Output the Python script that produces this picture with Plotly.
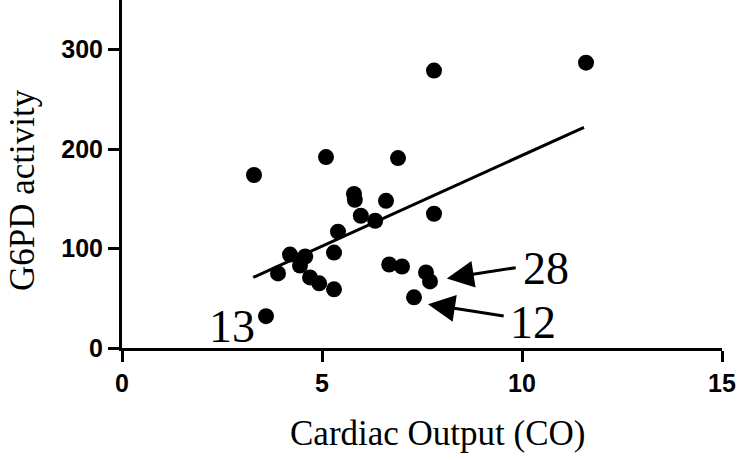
import plotly.graph_objects as go

# Data
co = [3.3, 3.6, 3.9, 4.2, 4.58, 4.45, 4.7, 4.93, 5.1, 5.3, 5.3, 5.4, 5.8, 5.82,
      5.97, 6.33, 6.6, 6.9, 6.68, 7.0, 7.3, 7.6, 7.7, 7.8, 7.8, 11.6]
g6pd = [174, 32, 75, 94, 92, 83, 71, 65, 192, 59, 96, 117, 155, 149,
        133, 128, 148, 191, 84, 82, 51, 76, 67, 279, 135, 287]

fit_x = [3.28, 11.55]
fit_y = [71, 222]

x_ticks = [0, 5, 10, 15]
y_ticks = [0, 100, 200, 300]

labels = ["13", "28", "12"]
label_x = [2.75, 10.6, 10.28]
label_y = [21.6, 80.4, 26]

arrow_tip_x = [8.12, 7.65]
arrow_tip_y = [70, 44]
arrow_tail_x = [9.88, 9.58]
arrow_tail_y = [81, 32]

fig = go.Figure()
fig.add_trace(go.Scatter(x=fit_x, y=fit_y, mode="lines",
                         line=dict(color="black", width=3), showlegend=False))
fig.add_trace(go.Scatter(x=co, y=g6pd, mode="markers",
                         marker=dict(color="black", size=16), showlegend=False))

for t, lx, ly in zip(labels, label_x, label_y):
    fig.add_annotation(x=lx, y=ly, text=t, showarrow=False, xref="x", yref="y",
                       font=dict(family="Liberation Serif", size=46, color="black"),
                       xanchor="center", yanchor="middle")

for tx, ty, sx, sy in zip(arrow_tip_x, arrow_tip_y, arrow_tail_x, arrow_tail_y):
    fig.add_annotation(x=tx, y=ty, ax=sx, ay=sy, xref="x", yref="y",
                       axref="x", ayref="y", text="", showarrow=True,
                       arrowhead=2, arrowsize=1.8, arrowwidth=3, arrowcolor="black")

# axis titles
fig.add_annotation(x=0.525, y=-0.245, xref="paper", yref="paper",
                   text="Cardiac Output (CO)", showarrow=False,
                   xanchor="center", yanchor="middle",
                   font=dict(family="Liberation Serif", size=35, color="black"))
fig.add_annotation(x=-0.166, y=0.455, xref="paper", yref="paper",
                   text="G6PD activity", showarrow=False, textangle=-90,
                   xanchor="center", yanchor="middle",
                   font=dict(family="Liberation Serif", size=35, color="black"))

axis_common = dict(showline=True, linecolor="black", linewidth=3, ticks="outside",
                   ticklen=11, tickwidth=3, tickcolor="black", showgrid=False,
                   zeroline=False, automargin=False,
                   tickfont=dict(family="Liberation Sans", size=25, color="black", weight="bold"))

fig.update_xaxes(range=[0, 15], tickvals=x_ticks, ticktext=[str(v) for v in x_ticks],
                 **axis_common)
fig.update_yaxes(range=[0, 350], tickvals=y_ticks, ticktext=[str(v) for v in y_ticks],
                 **axis_common)

fig.update_layout(width=740, height=460, margin=dict(l=122, r=18, t=0, b=112),
                  plot_bgcolor="white", paper_bgcolor="white")

fig.write_html("out.html", config={"displayModeBar": False},
               post_script="document.body.style.margin='0';document.body.style.padding='0';")
